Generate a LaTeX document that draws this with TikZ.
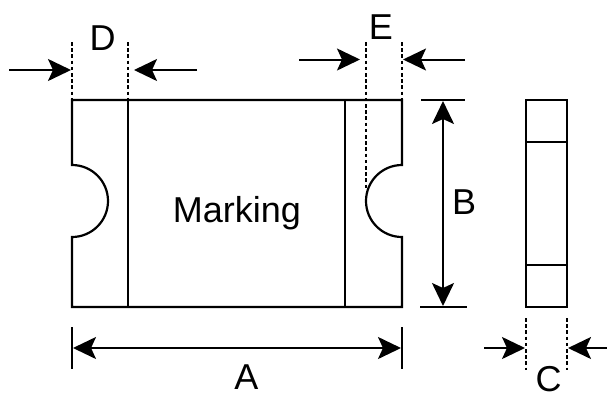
\documentclass[tikz,border=0pt]{standalone}
\usepackage{fontspec}
\setmainfont{Liberation Sans}
\usetikzlibrary{arrows.meta}
\tikzset{
  x=1pt,y=-1pt,
  outline/.style={line width=2.2pt,line cap=butt,line join=miter,black},
  thinline/.style={line width=2pt,black},
  dimdash/.style={line width=2pt,black,dash pattern=on 3.5pt off 2.7pt},
  dimarrow/.style={line width=2pt,black,-{Stealth[length=23pt,width=22pt,inset=5pt]}},
  dimboth/.style={line width=2pt,black,{Stealth[length=23pt,width=22pt,inset=5pt]}-{Stealth[length=23pt,width=22pt,inset=5pt]}},
  dimlabel/.style={inner sep=0pt,anchor=base,font=\fontsize{36}{36}\selectfont},
}
\begin{document}
\begin{tikzpicture}
\useasboundingbox (0,0) rectangle (607,392);
% body
\coordinate (tl) at (72,100);
\coordinate (tr) at (402,100);
\coordinate (bl) at (72,307);
\coordinate (br) at (402,307);
\coordinate (d1t) at (128,100);
\coordinate (d1b) at (128,307);
\coordinate (d2t) at (345,100);
\coordinate (d2b) at (345,307);
\draw[outline] (tl) -- (tr) -- (402,165) arc[start angle=90,end angle=270,radius=36pt] -- (br) -- (bl) -- (72,237) arc[start angle=-90,end angle=90,radius=36pt] -- cycle;
\draw[outline] (d1t) -- (d1b);
\draw[outline] (d2t) -- (d2b);
% side view
\coordinate (s1) at (526,100);
\coordinate (s2) at (567,100);
\coordinate (s3) at (567,307);
\coordinate (s4) at (526,307);
\coordinate (s5) at (526,142);
\coordinate (s6) at (567,142);
\coordinate (s7) at (526,265);
\coordinate (s8) at (567,265);
\draw[outline] (s1) -- (s2) -- (s3) -- (s4) -- cycle;
\draw[outline] (s5) -- (s6);
\draw[outline] (s7) -- (s8);
% D
\coordinate (da) at (72,42);
\coordinate (db) at (128,42);
\draw[dimdash] (da) -- (tl);
\draw[dimdash] (db) -- (d1t);
\coordinate (d1s) at (9,70);
\coordinate (d1e) at (71,70);
\coordinate (d2s) at (197,70);
\coordinate (d2e) at (134,70);
\draw[dimarrow] (d1s) -- (d1e);
\draw[dimarrow] (d2s) -- (d2e);
\node[dimlabel] (D) at (102.5,50) {D};
% E
\coordinate (ea) at (365.5,42);
\coordinate (eab) at (365.5,188);
\coordinate (eb) at (402,42);
\draw[dimdash] (ea) -- (eab);
\draw[dimdash] (eb) -- (tr);
\coordinate (e1s) at (299,59.5);
\coordinate (e1e) at (360,59.5);
\coordinate (e2s) at (465,59.5);
\coordinate (e2e) at (403,59.5);
\draw[dimarrow] (e1s) -- (e1e);
\draw[dimarrow] (e2s) -- (e2e);
\node[dimlabel] (E) at (381,39) {E};
% B
\coordinate (b1l) at (421,100);
\coordinate (b1r) at (465,100);
\coordinate (b2l) at (420,307);
\coordinate (b2r) at (467,307);
\coordinate (bt) at (443,101);
\coordinate (bb) at (443,306);
\draw[outline] (b1l) -- (b1r);
\draw[outline] (b2l) -- (b2r);
\draw[dimboth] (bt) -- (bb);
\node[dimlabel] (B) at (464,214) {B};
% A
\coordinate (a1t) at (72,327);
\coordinate (a1b) at (72,369);
\coordinate (a2t) at (402,327);
\coordinate (a2b) at (402,369);
\coordinate (al) at (73,348);
\coordinate (ar) at (401,348);
\draw[thinline] (a1t) -- (a1b);
\draw[thinline] (a2t) -- (a2b);
\draw[dimboth] (al) -- (ar);
\node[dimlabel] (A) at (246.5,389.5) {A};
% C
\coordinate (c1t) at (526,318);
\coordinate (c1b) at (526,370);
\coordinate (c2t) at (567,318);
\coordinate (c2b) at (567,370);
\draw[dimdash] (c1t) -- (c1b);
\draw[dimdash] (c2t) -- (c2b);
\coordinate (c1s) at (484,348);
\coordinate (c1e) at (525,348);
\coordinate (c2s) at (607,348);
\coordinate (c2e) at (568,348);
\draw[dimarrow] (c1s) -- (c1e);
\draw[dimarrow] (c2s) -- (c2e);
\node[dimlabel] (C) at (548.5,391) {C};
% Marking
\node[dimlabel] (M) at (237,222) {Marking};
\end{tikzpicture}
\end{document}
